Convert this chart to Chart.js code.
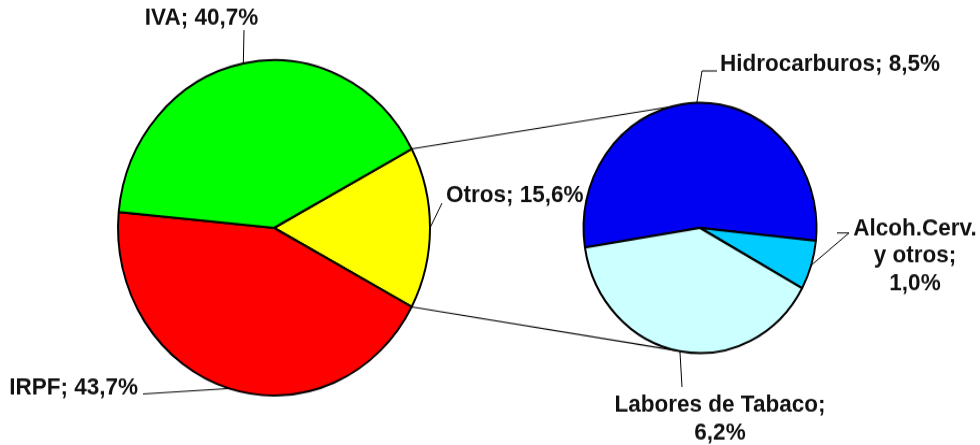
<!DOCTYPE html>
<html>
<head>
<meta charset="utf-8">
<script src="https://cdn.jsdelivr.net/npm/chart.js@4.4.1/dist/chart.umd.min.js"></script>
<style>
  html, body { margin: 0; padding: 0; background: #fff; }
  #wrap { position: relative; width: 980px; height: 445px; overflow: hidden; }
  #wrap canvas { position: absolute; left: 0; top: 0; }
</style>
</head>
<body>
<div id="wrap">
  <canvas id="mainPie" width="980" height="414" style="width:980px;height:445px"></canvas>
  <canvas id="detailPie" width="980" height="414" style="width:980px;height:445px"></canvas>
</div>
<script>
// Share of tax revenue (%)
const mainCategories = ['Otros', 'IRPF', 'IVA'];
const mainValues = [15.6, 43.7, 40.7];
const mainColors = ['#FFFF00', '#FF0000', '#00FF00'];

// Breakdown of "Otros" (%); '\n' marks where the label wraps
const detailCategories = ['Hidrocarburos', 'Alcoh.Cerv.\ny otros', 'Labores de Tabaco'];
const detailValues = [8.5, 1.0, 6.2];
const detailColors = ['#0000F2', '#00CCFF', '#CCFFFF'];
const wrapValueLine = [false, true, true];

const FONT = 'bold 22.5px "Liberation Sans", Arial, sans-serif';
const TEXT_COLOR = '#111111';
const LINE_H = 25.5;

const fmtPct = v => v.toFixed(1).replace('.', ',') + '%';

// Label anchors and leader-line waypoints (canvas units)
const mainLabelPos = [
  { x: 446, y: 188.2, align: 'left',   leader: [{ x: 442, y: 189 }] },
  { x: 138, y: 366.5, align: 'right',  leader: [{ x: 143, y: 366.5 }] },
  { x: 201.5, y: 23.2, align: 'center', leader: [{ x: 244, y: 28 }] }
];
const detailLabelPos = [
  { x: 720, y: 66, align: 'left',   leader: [{ x: 702, y: 66 }, { x: 717, y: 66 }] },
  { x: 915, y: 218.6, align: 'center', leader: [{ x: 849, y: 216.7 }, { x: 837, y: 216.7 }] },
  { x: 720, y: 383, align: 'center', leader: [{ x: 682, y: 360 }] }
];

function edgePoint(arc, angle) {
  return { x: arc.x + Math.cos(angle) * arc.outerRadius, y: arc.y + Math.sin(angle) * arc.outerRadius };
}

function labelPlugin(categories, values, positions, wraps) {
  return {
    id: 'sliceLabels',
    afterDatasetsDraw(chart) {
      const ctx = chart.ctx;
      const arcs = chart.getDatasetMeta(0).data;
      ctx.save();
      arcs.forEach((arc, i) => {
        const pos = positions[i];
        const mid = (arc.startAngle + arc.endAngle) / 2;
        const start = edgePoint(arc, mid);
        // leader line from the slice edge to the label
        ctx.beginPath();
        ctx.strokeStyle = '#000';
        ctx.lineWidth = 1;
        ctx.moveTo(start.x, start.y);
        pos.leader.forEach(p => ctx.lineTo(p.x, p.y));
        ctx.stroke();
        // label text
        const text = categories[i] + ';' + (wraps && wraps[i] ? '\n' : ' ') + fmtPct(values[i]);
        ctx.font = FONT;
        ctx.fillStyle = TEXT_COLOR;
        ctx.textAlign = pos.align;
        ctx.textBaseline = 'alphabetic';
        text.split('\n').forEach((line, k) => ctx.fillText(line, pos.x, pos.y + k * LINE_H));
      });
      ctx.restore();
    }
  };
}

const baseOptions = {
  responsive: false,
  animation: false,
  events: [],
  plugins: { legend: { display: false }, tooltip: { enabled: false } }
};

// Main pie: the "Otros" slice is centred on the right-hand side
const mainShare0 = mainValues[0] / mainValues.reduce((a, b) => a + b, 0);
const mainChart = new Chart(document.getElementById('mainPie'), {
  type: 'pie',
  data: {
    labels: mainCategories,
    datasets: [{ data: mainValues, backgroundColor: mainColors, borderColor: '#000', borderWidth: 2 }]
  },
  options: Object.assign({}, baseOptions, {
    rotation: 90 - mainShare0 * 180,
    radius: 156,
    layout: { padding: { left: 0, right: 432, top: 10, bottom: 0 } }
  }),
  plugins: [labelPlugin(mainCategories, mainValues, mainLabelPos, null)]
});

// Connector lines from the split slice to the secondary pie
const connectorPlugin = {
  id: 'connectors',
  beforeDatasetsDraw(chart) {
    const src = mainChart.getDatasetMeta(0).data[0];
    const dst = chart.getDatasetMeta(0).data[0];
    const a1 = edgePoint(src, src.startAngle);
    const a2 = edgePoint(src, src.endAngle);
    const b1 = edgePoint(dst, -104.5 * Math.PI / 180);
    const b2 = edgePoint(dst, 101 * Math.PI / 180);
    const ctx = chart.ctx;
    ctx.save();
    ctx.strokeStyle = '#000';
    ctx.lineWidth = 1.1;
    ctx.beginPath();
    ctx.moveTo(a1.x, a1.y); ctx.lineTo(b1.x, b1.y);
    ctx.moveTo(a2.x, a2.y); ctx.lineTo(b2.x, b2.y);
    ctx.stroke();
    ctx.restore();
  }
};

const detailChart = new Chart(document.getElementById('detailPie'), {
  type: 'pie',
  data: {
    labels: detailCategories,
    datasets: [{ data: detailValues, backgroundColor: detailColors, borderColor: '#000', borderWidth: 2 }]
  },
  options: Object.assign({}, baseOptions, {
    rotation: 261,
    radius: 116.5,
    layout: { padding: { left: 420, right: 0, top: 10, bottom: 0 } }
  }),
  plugins: [connectorPlugin, labelPlugin(detailCategories, detailValues, detailLabelPos, wrapValueLine)]
});
</script>
</body>
</html>
